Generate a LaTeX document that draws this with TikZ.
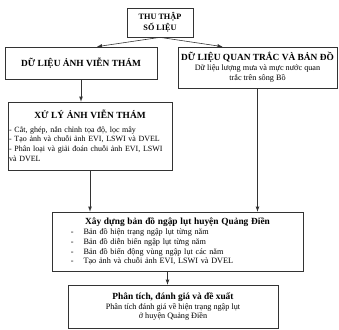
\documentclass[tikz,border=0pt]{standalone}
\usepackage{fontspec}
\setmainfont{Liberation Serif}
\usepackage{xcolor}

\begin{document}
\begin{tikzpicture}[
            x = 0.03cm, y = -0.03cm,
            box/.style = {draw = black!80, line width = 0.6pt, rectangle, inner sep = 2pt, align = center, font = \fontsize{7}{8.4}\selectfont},
            head/.style = {font = \fontsize{8}{10}\selectfont\bfseries},
            link/.style = {draw = black!80, line width = 0.5pt, -latex}
        ]
        \useasboundingbox (0,0) rectangle (339,329);

        \node[box, minimum width = 1.98cm, minimum height = 0.87cm, font = \fontsize{7}{9}\selectfont\bfseries] (thu) at (160,22.5) {THU THẬP\\SỐ LIỆU};
        \node[box, head, minimum width = 4.56cm, minimum height = 0.96cm] (anh) at (81,63) {DỮ LIỆU ẢNH VIỄN THÁM};
        \node[box, minimum width = 4.77cm, minimum height = 1.23cm] (quan) at (257.5,67.5)
            {{\fontsize{8}{10}\selectfont\bfseries DỮ LIỆU QUAN TRẮC VÀ BẢN ĐỒ}\\Dữ liệu lượng mưa và mực nước quan\\trắc trên sông Bồ};
        \node[box, minimum width = 4.92cm, minimum height = 2.04cm, inner sep = 1pt, text width = 4.85cm, align = left, font = \fontsize{6.8}{8.4}\selectfont] (xuly) at (90,136)
            {{\centering\fontsize{8}{10}\selectfont\bfseries XỬ LÝ ẢNH VIỄN THÁM\par}
             \vspace{3pt}
             - Cắt, ghép, nắn chỉnh tọa độ, lọc mây\\
             - Tạo ảnh và chuỗi ảnh EVI, LSWI và DVEL\\
             - Phân loại và giải đoán chuỗi ảnh EVI, LSWI\\
             và DVEL};
        \node[box, minimum width = 7.53cm, minimum height = 1.77cm, text width = 7.3cm, align = left] (xaydung) at (177.5,241.5)
            {{\centering\fontsize{8}{10}\selectfont\bfseries Xây dựng bản đồ ngập lụt huyện Quảng Điền\par}
             \hspace*{4.5mm}-\hspace*{3mm}Bản đồ hiện trạng ngập lụt từng năm\\
             \hspace*{4.5mm}-\hspace*{3mm}Bản đồ diễn biến ngập lụt từng năm\\
             \hspace*{4.5mm}-\hspace*{3mm}Bản đồ biến động vùng ngập lụt các năm\\
             \hspace*{4.5mm}-\hspace*{3mm}Tạo ảnh và chuỗi ảnh EVI, LSWI và DVEL};
        \node[box, minimum width = 6.3cm, minimum height = 1.29cm] (phantich) at (173,306.5)
            {{\fontsize{8}{10}\selectfont\bfseries Phân tích, đánh giá và đề xuất}\\Phân tích đánh giá về hiện trạng ngập lụt\\ở huyện Quảng Điền};

        % connectors
        \draw[link] (thu.south) -- ([xshift = 0.48cm]anh.north);
        \draw[link] (thu.south) -- ([xshift = -1.05cm]quan.north);
        \draw[link] (anh.south) -- (anh.south |- xuly.north);
        \draw[link] (xuly.south) -- (xuly.south |- xaydung.north);
        \draw[link] (quan.south) -- (quan.south |- xaydung.north);
        \draw[link] ([xshift = -0.3cm]xaydung.south) -- ([xshift = -0.3cm]xaydung.south |- phantich.north);
    \end{tikzpicture}
\end{document}
